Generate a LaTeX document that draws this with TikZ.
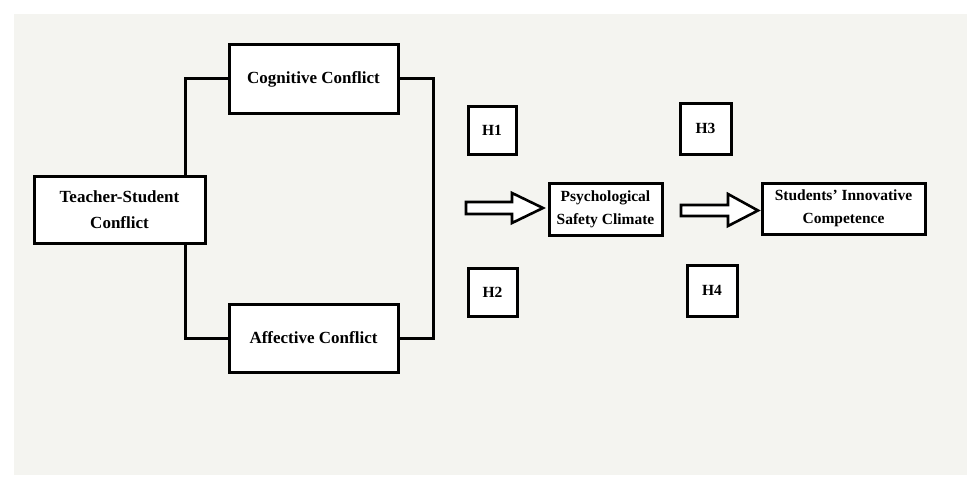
\documentclass[tikz,border=0pt]{standalone}
\usepackage{fontspec}
\setmainfont{Liberation Serif}
\usepackage{tikz}
\begin{document}
\begin{tikzpicture}[x=1pt,y=-1pt,
  box/.style={draw=black,line width=3pt,fill=white,inner sep=0pt,font=\fontsize{17}{26}\selectfont\bfseries,align=center},
  small/.style={font=\fontsize{15.5}{23}\selectfont\bfseries},
  conn/.style={draw=black,line width=3pt,line join=miter},
  bigarrow/.style={draw=black,line width=2.6pt,fill=white,line join=miter}]
\useasboundingbox (0,0) rectangle (980,487);
\fill[white] (0,0) rectangle (980,487);
\fill[fill={rgb,255:red,244;green,244;blue,240}] (14,14) rectangle (967,475);
% boxes
\node[box,minimum width=169pt,minimum height=68pt] (cog) at (313.5,79) {Cognitive Conflict};
\node[box,minimum width=169pt,minimum height=68pt] (aff) at (313.5,338) {Affective Conflict};
\node[box,minimum width=171pt,minimum height=67pt] (tsc) at (119.5,209.5) {Teacher-Student\\Conflict};
\node[box,small,minimum width=48pt,minimum height=48pt] (h1) at (492,130) {H1};
\node[box,small,minimum width=49pt,minimum height=48pt] (h2) at (492.5,292) {H2};
\node[box,small,minimum width=51pt,minimum height=51pt] (h3) at (705.5,128.5) {H3};
\node[box,small,minimum width=50pt,minimum height=51pt] (h4) at (712,290.5) {H4};
\node[box,small,minimum width=113pt,minimum height=52pt] (psc) at (605.5,209) {Psychological\\Safety Climate};
\node[box,small,minimum width=163pt,minimum height=51pt] (sic) at (843.5,208.5) {Students’ Innovative\\Competence};
% connectors
\coordinate (lx) at (185,0);
\coordinate (rx) at (433,0);
\draw[conn] (cog.west) -| (lx |- tsc.north);
\draw[conn] (tsc.south -| lx) |- (aff.west);
\draw[conn] (cog.east) -| (rx |- aff.east) -- (aff.east);
% big arrows
\draw[bigarrow] (466,202) -- (512,202) -- (512,193) -- (543,208) -- (512,223) -- (512,214) -- (466,214) -- cycle;
\draw[bigarrow] (681,205) -- (728,205) -- (728,194) -- (758,210.5) -- (728,226) -- (728,216) -- (681,216) -- cycle;
\end{tikzpicture}
\end{document}
